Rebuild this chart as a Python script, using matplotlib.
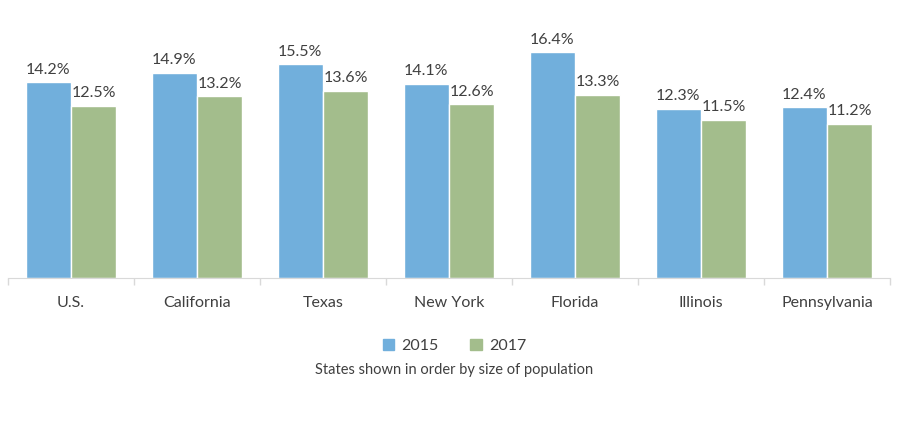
import matplotlib
matplotlib.use("Agg")
import matplotlib.pyplot as plt
import numpy as np
from matplotlib.patches import Patch

states = ["U.S.", "California", "Texas", "New York", "Florida", "Illinois", "Pennsylvania"]
vals_2015 = [14.2, 14.9, 15.5, 14.1, 16.4, 12.3, 12.4]
vals_2017 = [12.5, 13.2, 13.6, 12.6, 13.3, 11.5, 11.2]

BLUE = "#71AFDC"
GREEN = "#A3BD8C"
TEXT = "#404040"
AXIS = "#D9D9D9"

plt.rcParams["font.family"] = ["Lato", "DejaVu Sans"]

fig = plt.figure(figsize=(9, 4.32), dpi=100)
ax = fig.add_axes([0.0089, 0.3565, 0.9800, 0.574])

x = np.arange(len(states))
w = 0.36
b1 = ax.bar(x - w / 2, vals_2015, w, color=BLUE, edgecolor="white", linewidth=1, label="2015")
b2 = ax.bar(x + w / 2, vals_2017, w, color=GREEN, edgecolor="white", linewidth=1, label="2017")

for bars, vals in ((b1, vals_2015), (b2, vals_2017)):
    for r, v in zip(bars, vals):
        ax.annotate(f"{v:.1f}%", (r.get_x() + r.get_width() / 2, v),
                    xytext=(0, 4), textcoords="offset points",
                    ha="center", va="bottom", fontsize=11.5, color=TEXT)

ax.set_xlim(-0.5, len(states) - 0.5)
ax.set_ylim(0, 18)
ax.set_yticks([])
for s in ("top", "right", "left"):
    ax.spines[s].set_visible(False)
ax.spines["bottom"].set_color(AXIS)

ax.set_xticks(x)
ax.set_xticklabels(states, fontsize=11.5, color=TEXT)
ax.tick_params(axis="x", length=0, pad=13)
# small separators between categories
ax.set_xticks(np.arange(len(states) + 1) - 0.5, minor=True)
ax.tick_params(axis="x", which="minor", length=5, color=AXIS, width=1)

handles = [Patch(color=BLUE, label="2015"), Patch(color=GREEN, label="2017")]
fig.legend(handles=handles, loc="center", bbox_to_anchor=(0.505, 0.2),
           ncol=2, frameon=False, fontsize=11.5, labelcolor=TEXT,
           handlelength=0.7, handleheight=0.7, handletextpad=0.45, columnspacing=2.0)

fig.text(0.505, 0.143, "States shown in order by size of population",
         ha="center", va="center", fontsize=10.5, color=TEXT)

fig.savefig("out.png", dpi=100, facecolor="white")
